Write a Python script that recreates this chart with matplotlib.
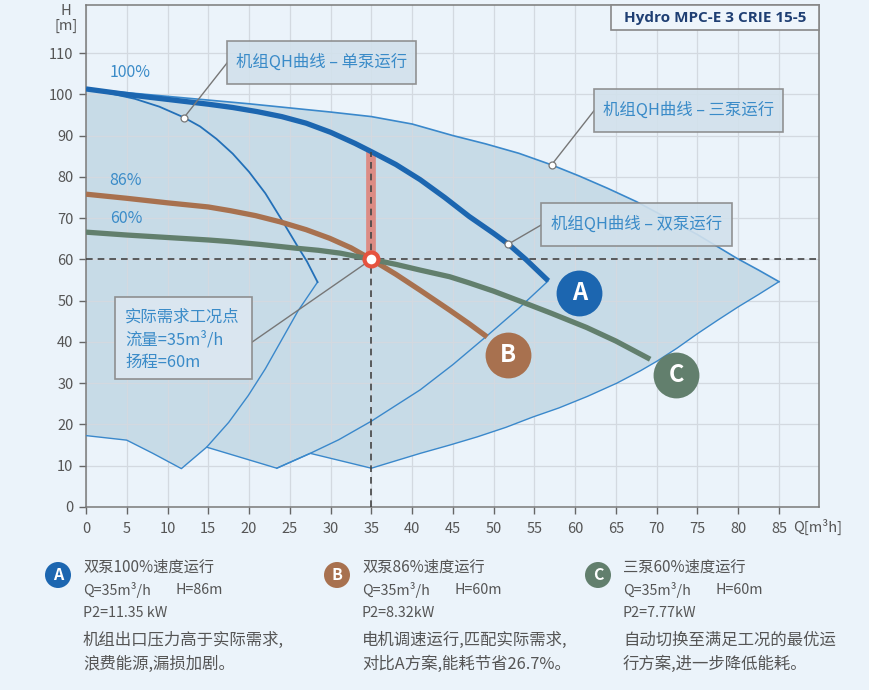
import matplotlib
matplotlib.use("Agg")
import matplotlib.pyplot as plt
from matplotlib.patches import Rectangle, Circle

plt.rcParams['font.family'] = ['Noto Sans CJK SC', 'DejaVu Sans']

# ---- data (Q in m3/h, H in m) ----
q_single = [0, 3, 6, 9, 12, 14, 16, 18, 20, 22, 24, 26, 27.1, 28.4]
h_single = [101.3, 100.2, 98.9, 97.0, 94.4, 92.2, 89.2, 85.6, 81.2, 76.0, 69.6, 63.0, 59.5, 54.5]
q_single_edge = [28.4, 26, 24, 22, 19.9, 17.5, 14.8]
h_single_edge = [54.5, 47.5, 40.5, 33.5, 27.0, 20.5, 14.5]

q_double = [0, 3, 6, 9, 12, 15, 18, 21, 24, 27, 30, 33, 35, 38, 41, 44, 47, 50, 51.8, 54, 56.7]
h_double = [101.3, 100.5, 99.7, 99.0, 98.3, 97.6, 96.8, 95.8, 94.6, 93.0, 90.8, 88.1, 86.1,
            83.0, 79.3, 75.0, 70.4, 66.3, 63.7, 59.9, 54.8]
q_double_edge = [56.7, 53, 49.2, 45, 41, 35, 31, 27.5, 23.4]
h_double_edge = [54.8, 48.0, 41.5, 34.5, 28.4, 20.8, 16.3, 13.0, 9.4]

q_triple = [0, 5, 10, 15, 20, 25, 30, 35, 40, 45, 49, 53.1, 57.1, 60.5, 64, 67.5,
            71, 75, 79.8, 82.5, 85]
h_triple = [101.3, 100.4, 99.5, 98.6, 97.7, 96.7, 95.7, 94.6, 92.8, 90.0, 88.0, 85.7,
            82.9, 80.2, 77.2, 74.0, 70.3, 66.0, 60.3, 57.4, 54.6]
q_triple_edge = [85, 82.5, 80, 77.5, 75, 72.5, 70, 68, 65.1, 61.5, 58, 54.8, 51.5, 48,
                 44.6, 41, 38, 35]
h_triple_edge = [54.6, 51.5, 48.5, 45.3, 42.0, 38.5, 35.3, 33.0, 30.0, 26.8, 24.0, 21.8,
                 19.3, 17.0, 15.0, 13.0, 11.2, 9.4]

q_bottom = [35, 27.5, 23.4, 14.8, 11.7, 8.2, 5, 0]
h_bottom = [9.4, 13.0, 9.4, 14.5, 9.3, 13.0, 16.2, 17.3]

q_b = [0, 5, 10, 15, 17.7, 20.8, 23.8, 27, 29.9, 32.5, 35, 38, 41, 44.6, 47, 49.2]
h_b = [75.8, 74.8, 73.7, 72.7, 71.8, 70.6, 69.1, 67.2, 65.1, 62.8, 60.0, 56.4, 52.5,
       47.7, 44.4, 41.2]
q_c = [0, 5, 10, 15, 17.7, 21.5, 25.8, 28.5, 31.2, 35, 38, 41, 44.6, 47, 50, 53.2,
       57, 61.4, 65, 69.2]
h_c = [66.6, 65.9, 65.3, 64.7, 64.3, 63.6, 62.7, 62.2, 61.5, 60.0, 58.8, 57.4, 55.8,
       54.3, 52.3, 49.9, 47.0, 43.5, 40.2, 35.8]

q_need, h_need, h_a_need = 35, 60, 86
speed_labels = ['100%', '86%', '60%']
speed_h = [105.2, 79.0, 70.0]

x_ticks = list(range(0, 90, 5))
y_ticks = list(range(0, 120, 10))

bg = '#EBF3FA'
blue = '#1C66B0'
thin = '#3A88CB'
orange = '#A8714F'
green = '#627F6D'
txt_blue = '#3A8BC8'
grey = '#555555'

fig = plt.figure(figsize=(8.7, 6.9), dpi=100)
fig.patch.set_facecolor(bg)
ax = fig.add_axes([86 / 870, 1 - 507 / 690, 733 / 870, 502 / 690])
ax.set_facecolor(bg)
ax.set_xlim(0, 733 / 8.153)
ax.set_ylim(0, 502 / 4.127)

ax.set_xticks(x_ticks)
ax.set_yticks(y_ticks)
ax.grid(True, color='#D3D9E0', lw=0.9, zorder=0)
ax.tick_params(colors='#666666', labelcolor=grey, labelsize=10.5, length=5, width=1, pad=4)
ax.tick_params(axis='x', pad=6)
for s in ax.spines.values():
    s.set_color('#7A7A7A')
    s.set_linewidth(1.1)

# operating region
poly_q = q_triple + q_triple_edge[1:] + q_bottom[1:]
poly_h = h_triple + h_triple_edge[1:] + h_bottom[1:]
ax.fill(poly_q, poly_h, color='#BCD4E1', alpha=0.75, lw=0, zorder=1)

ax.plot(q_triple, h_triple, color=thin, lw=1.2, zorder=3)
ax.plot(q_triple_edge, h_triple_edge, color=thin, lw=1.0, zorder=3)
ax.plot(q_double_edge, h_double_edge, color=thin, lw=1.0, zorder=3)
ax.plot(q_single_edge, h_single_edge, color=thin, lw=1.0, zorder=3)
ax.plot(q_bottom, h_bottom, color=thin, lw=1.0, zorder=3)
ax.plot(q_single, h_single, color='#2370B8', lw=1.3, zorder=3)

# dashed guide lines
ax.axhline(h_need, color='#444444', lw=1.2, ls=(0, (4, 3)), zorder=4)
ax.plot([q_need, q_need], [0, h_a_need], color='#444444', lw=1.2, ls=(0, (4, 3)), zorder=6)
ax.plot([q_need, q_need], [h_need, h_a_need], color='#E07F74', lw=7, alpha=0.85,
        solid_capstyle='butt', zorder=5)

for q, h, c in [(q_double, h_double, blue), (q_b, h_b, orange), (q_c, h_c, green)]:
    ax.plot(q, h, color=c, lw=3.8, zorder=5, solid_capstyle='butt', solid_joinstyle='round')

ax.plot(q_need, h_need, 'o', ms=10, mfc='white', mec='#E5533F', mew=3, zorder=9)

for lab, h in zip(speed_labels, speed_h):
    ax.text(2.9, h, lab, color=txt_blue, fontsize=11.5, va='center', zorder=6)

# callout boxes
boxes = [
    ((17.3, 102.5), (23.2, 10.4), '机组QH曲线 – 单泵运行', (12, 94.3), (17.3, 107.6)),
    ((62.3, 90.9), (23.2, 10.4), '机组QH曲线 – 三泵运行', (57.1, 82.9), (62.3, 96.0)),
    ((55.8, 63.2), (23.4, 10.5), '机组QH曲线 – 双泵运行', (51.8, 63.7), (55.8, 68.3)),
]
for (x0, y0), (w, h), t, pt, end in boxes:
    ax.plot([pt[0], end[0]], [pt[1], end[1]], color='#777777', lw=1.0, zorder=7)
    ax.plot(*pt, 'o', ms=5, mfc='white', mec='#777777', mew=0.9, zorder=8)
    ax.add_patch(Rectangle((x0, y0), w, h, fc='#D2E1EC', ec='#888888', lw=1.2,
                           alpha=0.9, zorder=7))
    ax.text(x0 + w / 2, y0 + h / 2, t, color=txt_blue, fontsize=11.8,
            ha='center', va='center', zorder=8)

ax.plot([q_need, 20.4], [h_need, 40.0], color='#777777', lw=1.0, zorder=7)
ax.add_patch(Rectangle((3.6, 31.0), 16.8, 19.9, fc='#DCE8F1', ec='#888888', lw=1.2,
                       alpha=0.92, zorder=7))
for t, h in zip(['实际需求工况点', '流量=35m³/h', '扬程=60m'], [46.0, 40.5, 35.1]):
    ax.text(4.8, h, t, color=txt_blue, fontsize=11.8, va='center', zorder=8)

# A / B / C badges
for lab, c, q, h in [('A', blue, 60.5, 51.9), ('B', orange, 51.8, 36.8), ('C', green, 72.4, 32.0)]:
    ax.plot(q, h, 'o', ms=33, color=c, mec='none', zorder=9)
    ax.text(q, h, lab, color='white', fontsize=17, fontweight='bold',
            ha='center', va='center', zorder=10)

# title box
ax.add_patch(Rectangle((0.716, 0.950), 0.284, 0.05, transform=ax.transAxes,
                       fc='#EEF5FB', ec='#888888', lw=1.2, zorder=9, clip_on=False))
ax.text(0.858, 0.975, 'Hydro MPC-E 3 CRIE 15-5', transform=ax.transAxes,
        family=['Open Sans', 'DejaVu Sans'], fontsize=11, fontweight='bold',
        color='#1F3F73', ha='center', va='center', zorder=10)

fig.text(66 / 870, 1 - 11 / 690, 'H', color=grey, fontsize=10.5, ha='center', va='center')
fig.text(66 / 870, 1 - 26 / 690, '[m]', color=grey, fontsize=10.5, ha='center', va='center')
fig.text(793 / 870, 1 - 527 / 690, 'Q[m³h]', color=grey, fontsize=10.5, ha='left', va='center')

# notes under the chart
ov = fig.add_axes([0, 0, 1, 1])
ov.set_xlim(0, 870)
ov.set_ylim(690, 0)
ov.axis('off')
ov.patch.set_alpha(0)

notes = [
    ('A', blue, 58, '双泵100%速度运行', 'Q=35m³/h', 'H=86m', 'P2=11.35 kW',
     ['机组出口压力高于实际需求,', '浪费能源,漏损加剧。']),
    ('B', orange, 337, '双泵86%速度运行', 'Q=35m³/h', 'H=60m', 'P2=8.32kW',
     ['电机调速运行,匹配实际需求,', '对比A方案,能耗节省26.7%。']),
    ('C', green, 598, '三泵60%速度运行', 'Q=35m³/h', 'H=60m', 'P2=7.77kW',
     ['自动切换至满足工况的最优运', '行方案,进一步降低能耗。']),
]
for lab, c, x, head, qv, hv, p2, desc in notes:
    ov.add_patch(Circle((x, 575), 13, color=c, lw=0))
    ov.text(x, 575, lab, color='white', fontsize=11.5, fontweight='bold', ha='center', va='center')
    ov.text(x + 25, 567, head, color=grey, fontsize=11, ha='left', va='center')
    ov.text(x + 25, 590, qv, color=grey, fontsize=10.3, ha='left', va='center')
    ov.text(x + 118, 590, hv, color=grey, fontsize=10.3, ha='left', va='center')
    ov.text(x + 25, 613, p2, color=grey, fontsize=10.3, ha='left', va='center')
    for t, y in zip(desc, [640, 664]):
        ov.text(x + 25, y, t, color=grey, fontsize=11.8, ha='left', va='center')

fig.savefig('out.png', dpi=100, facecolor=bg)
